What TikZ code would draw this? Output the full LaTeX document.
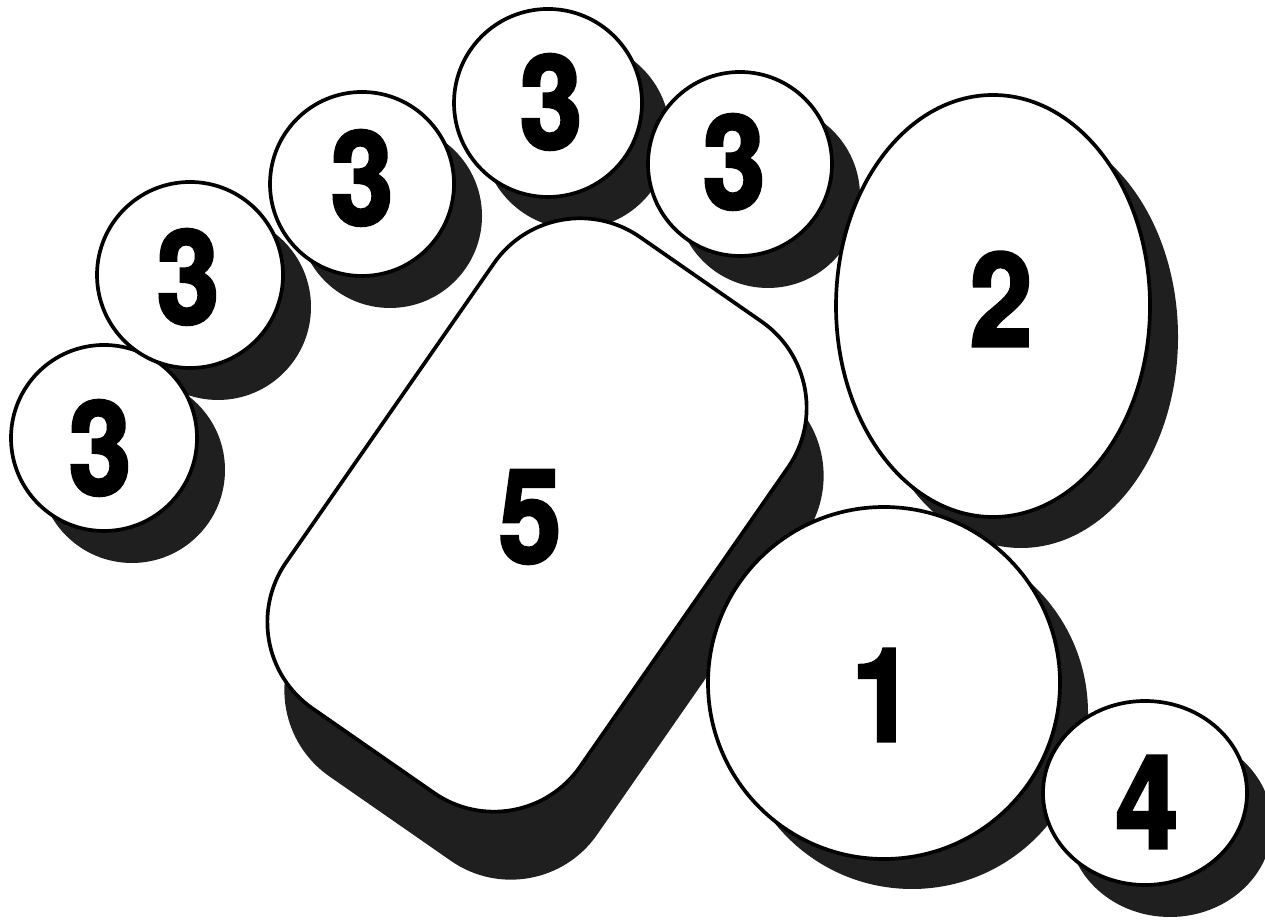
\documentclass[tikz,border=0pt]{standalone}
\usepackage{fontspec}
\usepackage{tikz}
\usetikzlibrary{shapes.geometric}
\newfontfamily\numfont[BoldFeatures={FakeBold=2.5,FakeStretch=0.86}]{TeX Gyre Heros}

\begin{document}
\begin{tikzpicture}[
    disc/.style={circle, inner sep=0pt, outer sep=0pt},
    oval/.style={ellipse, inner sep=0pt, outer sep=0pt},
    slab/.style={rectangle, rounded corners=1.05cm, inner sep=0pt, outer sep=0pt, minimum width=3.58cm, minimum height=5.74cm, rotate=-34.8},
    face/.style={draw=black, line width=1.05pt, fill=white},
    cast/.style={draw=none, fill=black!88},
    num/.style={inner sep=0pt, font=\numfont\bfseries\fontsize{37}{37}\selectfont}
]
\useasboundingbox (0,0) rectangle (12.65,9.22);
% shadows first, all below the white shapes
\node[disc, cast, minimum size=1.86cm] (s3a) at (1.32,4.52) {};
\node[disc, cast, minimum size=1.86cm] (s3b) at (2.18,6.15) {};
\node[disc, cast, minimum size=1.84cm] (s3c) at (3.90,7.06) {};
\node[disc, cast, minimum size=1.88cm] (s3d) at (5.76,7.87) {};
\node[disc, cast, minimum size=1.84cm] (s3e) at (7.68,7.26) {};
\node[oval, cast, minimum width=3.14cm, minimum height=4.22cm] (s2) at (10.21,5.85) {};
\node[disc, cast, minimum size=3.52cm] (s1) at (9.12,2.09) {};
\node[oval, cast, minimum width=2.04cm, minimum height=1.84cm] (s4) at (11.70,0.97) {};
\node[slab, cast] (s5) at (5.54,3.39) {};
% white shapes
\node[disc, face, minimum size=1.86cm] (c3a) at (1.04,4.84) {};
\node[disc, face, minimum size=1.86cm] (c3b) at (1.90,6.47) {};
\node[disc, face, minimum size=1.84cm] (c3c) at (3.62,7.38) {};
\node[disc, face, minimum size=1.88cm] (c3d) at (5.48,8.19) {};
\node[disc, face, minimum size=1.84cm] (c3e) at (7.40,7.58) {};
\node[oval, face, minimum width=3.14cm, minimum height=4.22cm] (e2) at (9.93,6.16) {};
\node[disc, face, minimum size=3.52cm] (c1) at (8.84,2.39) {};
\node[oval, face, minimum width=2.04cm, minimum height=1.84cm] (e4) at (11.45,1.29) {};
\node[slab, face] (r5) at (5.37,4.07) {};
% numbers
\node[num] (n3a) at (1.00,4.74) {3};
\node[num] (n3b) at (1.88,6.45) {3};
\node[num] (n3c) at (3.62,7.44) {3};
\node[num] (n3d) at (5.51,8.20) {3};
\node[num] (n3e) at (7.34,7.60) {3};
\node[num] (n2) at (10.01,6.23) {2};
\node[num] (n1) at (8.83,2.27) {1};
\node[num] (n4) at (11.47,1.20) {4};
\node[num] (n5) at (5.30,4.05) {5};
\end{tikzpicture}
\end{document}
